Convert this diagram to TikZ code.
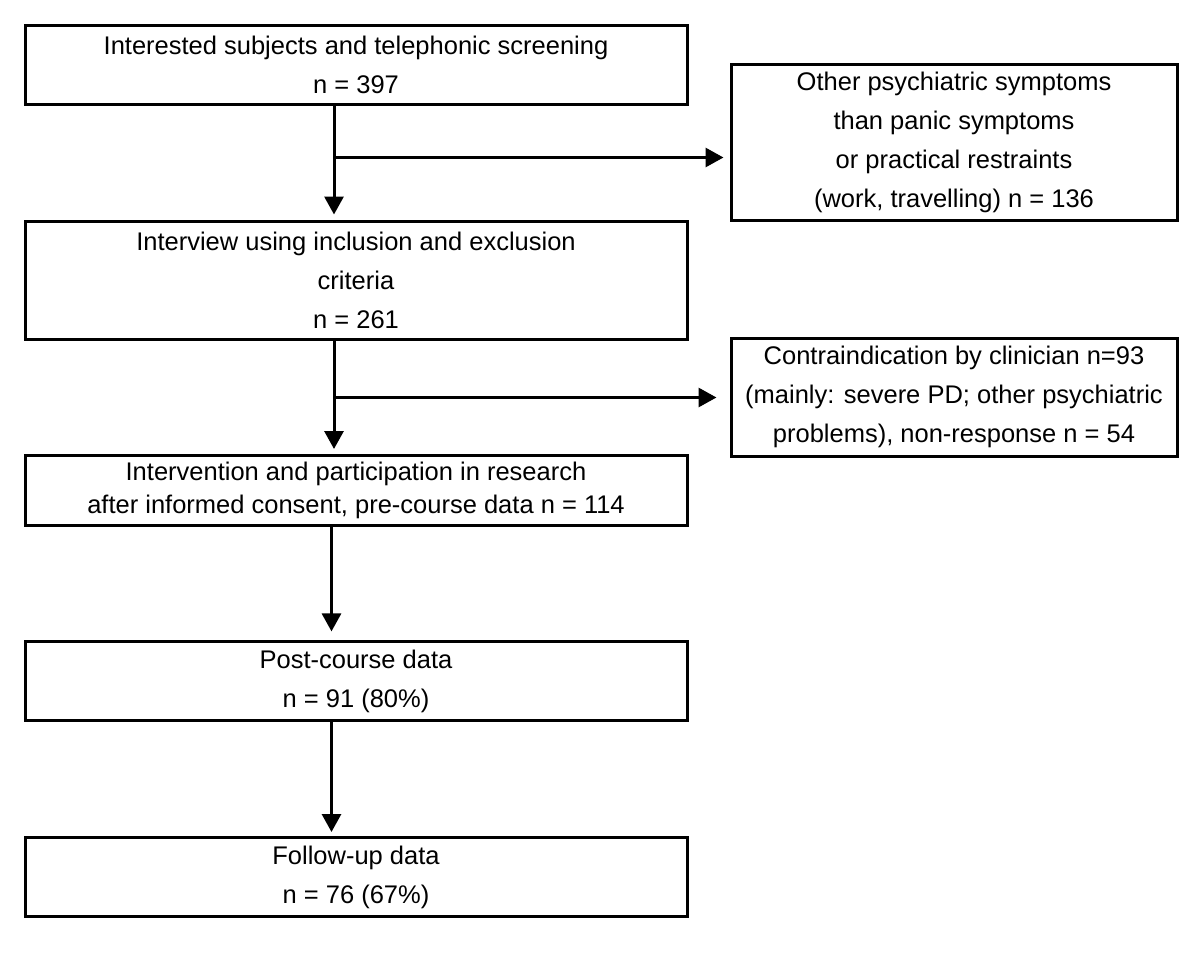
\documentclass[tikz,border=0pt]{standalone}
\usepackage{fontspec}
\setmainfont{Liberation Sans}
\usetikzlibrary{arrows.meta}
\begin{document}
\begin{tikzpicture}[x=1pt,y=-1pt,
  box/.style={draw=black, line width=3pt, rectangle, inner sep=0pt, align=center,
    font=\fontsize{25.5}{39}\selectfont},
  mainbox/.style={box, minimum width=662pt},
  sidebox/.style={box, minimum width=446pt},
  arr/.style={line width=3pt, -{Triangle[length=18pt,width=19pt]}}]
\useasboundingbox (0,0) rectangle (1200,956);
% main column
\node[mainbox, minimum height=79pt] (b1) at (356,64.5)
  {Interested subjects and telephonic screening\\n = 397};
\node[mainbox, minimum height=118pt] (b2) at (356,280)
  {Interview using inclusion and exclusion\\criteria\\n = 261};
\node[mainbox, minimum height=70pt, font=\fontsize{25.5}{33}\selectfont] (b3) at (356,490.5)
  {Intervention and participation in research\\after informed consent, pre-course data n = 114};
\node[mainbox, minimum height=79pt] (b4) at (356,681.4)
  {Post-course data\\n = 91 (80\%)};
\node[mainbox, minimum height=79pt] (b5) at (356,877)
  {Follow-up data\\n = 76 (67\%)};
% side boxes
\node[sidebox, minimum height=156pt] (r1) at (954,142.7)
  {Other psychiatric symptoms\\than panic symptoms\\or practical restraints\\(work, travelling) n = 136};
\node[sidebox, minimum height=117.5pt] (r2) at (954,397.3)
  {Contraindication by clinician n=93\\(mainly: severe PD; other psychiatric\\problems), non-response n = 54};
% spine coordinates
\coordinate (sp) at (334,0);
\coordinate (sq) at (331.5,0);
\coordinate (j1) at (334,157.5);
\coordinate (j2) at (334,397.5);
% connectors
\draw[arr, shorten >=5pt] (b1.south -| sp) -- (b2.north -| sp);
\draw[arr, shorten >=6pt] (j1) -- (j1 -| r1.west);
\draw[arr, shorten >=5pt] (b2.south -| sp) -- (b3.north -| sp);
\draw[arr, shorten >=13pt] (j2) -- (j2 -| r2.west);
\draw[arr, shorten >=9pt] (b3.south -| sq) -- (b4.north -| sq);
\draw[arr, shorten >=4pt] (b4.south -| sq) -- (b5.north -| sq);
\end{tikzpicture}
\end{document}
